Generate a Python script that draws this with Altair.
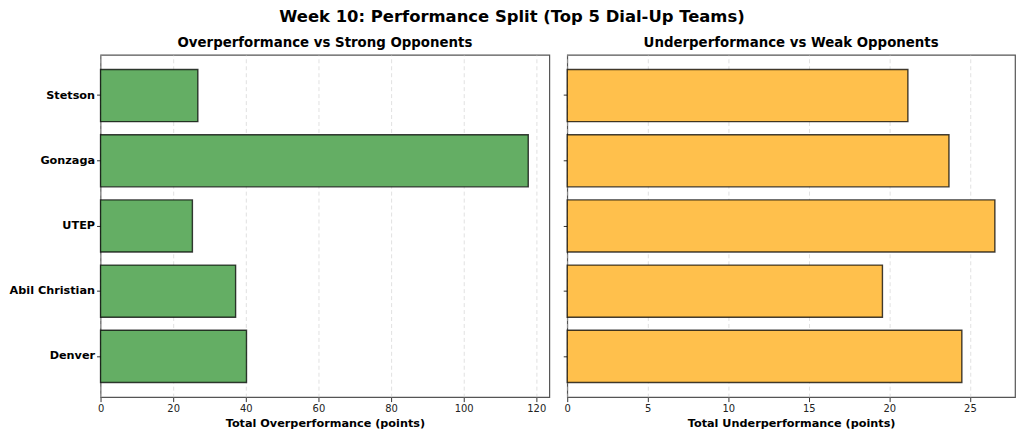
import altair as alt
import pandas as pd

teams = ["Stetson", "Gonzaga", "UTEP", "Abil Christian", "Denver"]
over_vals = [26.8, 117.8, 25.3, 37.2, 40.2]
under_vals = [21.15, 23.7, 26.55, 19.57, 24.5]

over_df = pd.DataFrame({"team": teams, "value": over_vals})
under_df = pd.DataFrame({"team": teams, "value": under_vals})

FONT = "DejaVu Sans"
H = 344

def panel(df, color, title, xtitle, xmax, ticks, show_labels, width):
    yaxis = alt.Axis(
        title=None, labels=show_labels, labelFontWeight="bold", labelFontSize=11.3,
        labelColor="#000000", labelFont=FONT, tickSize=4, tickColor="#333333",
        labelPadding=2, domain=False, grid=False,
        minExtent=92 if show_labels else 0, maxExtent=92 if show_labels else 5,
    )
    xaxis = alt.Axis(
        title=xtitle, values=ticks, titleFontWeight="bold", titleFontSize=11.3,
        titleFont=FONT, titleColor="#000000", labelFont=FONT, labelFontSize=10,
        labelColor="#222222", tickSize=4.5, tickColor="#333333", labelPadding=2,
        titlePadding=4, domain=False, grid=True, gridDash=[4, 3],
        gridColor="#cccccc", gridOpacity=0.6, labelFlush=False,
    )
    return alt.Chart(df).mark_bar(
        color=color, stroke="#000000", strokeOpacity=0.75, strokeWidth=1.4
    ).encode(
        y=alt.Y("team:N", sort=None, axis=yaxis,
                scale=alt.Scale(paddingInner=0.2, paddingOuter=0.225)),
        x=alt.X("value:Q", axis=xaxis,
                scale=alt.Scale(domain=[0, xmax], nice=False, zero=True)),
    ).properties(
        width=width, height=H,
        title=alt.TitleParams(title, fontSize=13.4, fontWeight="bold", font=FONT,
                              color="#000000", anchor="middle", offset=5),
    )

left = panel(over_df, "#64AE64", "Overperformance vs Strong Opponents",
             "Total Overperformance (points)", 123.6, [0, 20, 40, 60, 80, 100, 120], True, 451)
right = panel(under_df, "#FFC04C", "Underperformance vs Weak Opponents",
              "Total Underperformance (points)", 27.8, [0, 5, 10, 15, 20, 25], False, 450)

chart = alt.hconcat(left, right, spacing=11).properties(
    title=alt.TitleParams("Week 10: Performance Split (Top 5 Dial-Up Teams)",
                          fontSize=16.5, fontWeight="bold", font=FONT, color="#000000",
                          anchor="middle", offset=10),
    padding={"left": 0, "top": 0, "right": 0, "bottom": 0},
    background="#ffffff",
).configure_view(stroke="#555555", strokeWidth=1.2)

chart.save("out.html", embed_options={"renderer": "svg", "actions": False})
